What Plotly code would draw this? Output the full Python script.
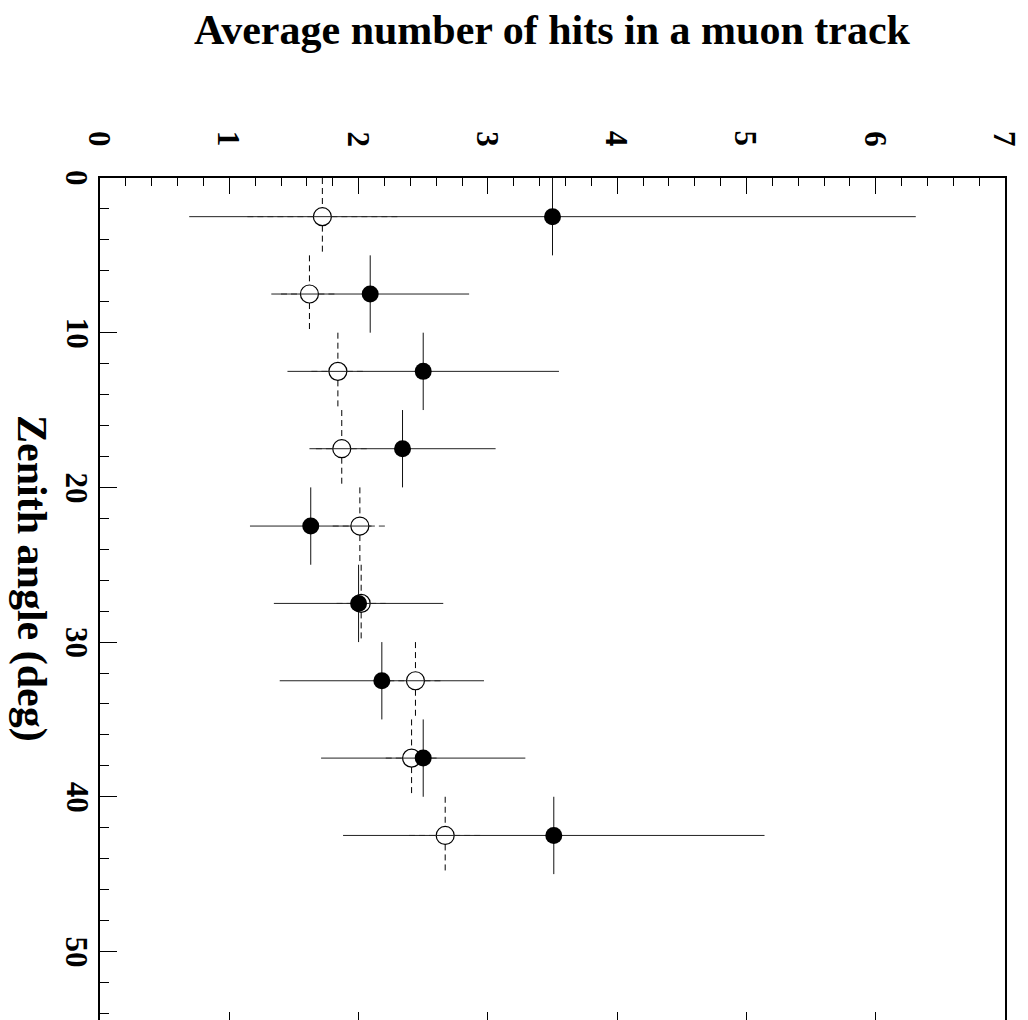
import plotly.graph_objects as go

# ---- data ----
zenith = [2.5, 7.5, 12.5, 17.5, 22.5, 27.5, 32.5, 37.5, 42.5]
zenith_halfwidth = 2.5
data_hits = [3.50, 2.09, 2.50, 2.34, 1.63, 2.00, 2.18, 2.50, 3.51]
data_err = [2.81, 0.765, 1.05, 0.72, 0.47, 0.655, 0.79, 0.79, 1.63]
mc_hits = [1.72, 1.62, 1.84, 1.87, 2.01, 2.02, 2.44, 2.41, 2.67]
mc_err = [0.58, 0.22, 0.205, 0.20, 0.21, 0.19, 0.21, 0.20, 0.28]

hits_ticks = [0, 1, 2, 3, 4, 5, 6, 7]
zen_ticks = [0, 10, 20, 30, 40, 50]

FONT = "Liberation Serif"

# marker radius expressed in axis units (error bars start at the marker edge)
X_RANGE = [0, 7]
Y_RANGE = [54.43, 0]
PLOT_W, PLOT_H = 905, 842
MARKER_R_PX = 9
rx = MARKER_R_PX * (X_RANGE[1] - X_RANGE[0]) / PLOT_W
ry = MARKER_R_PX * (Y_RANGE[0] - Y_RANGE[1]) / PLOT_H

# dashed error segments for the open (MC) points
hx, hy, vx, vy = [], [], [], []
for z, m, e in zip(zenith, mc_hits, mc_err):
    if e > rx:
        hx += [m - e, m - rx, None, m + rx, m + e, None]
        hy += [z, z, None, z, z, None]
    vx += [m, m, None, m, m, None]
    vy += [z - zenith_halfwidth, z - ry, None, z + ry, z + zenith_halfwidth, None]

fig = go.Figure()
fig.add_trace(go.Scatter(x=hx, y=hy, mode="lines",
                         line=dict(color="#333", width=1, dash="6px,4px"),
                         hoverinfo="skip", showlegend=False))
fig.add_trace(go.Scatter(x=vx, y=vy, mode="lines",
                         line=dict(color="#000", width=1, dash="6px,4px"),
                         hoverinfo="skip", showlegend=False))
fig.add_trace(go.Scatter(x=mc_hits, y=zenith, mode="markers",
                         marker=dict(symbol="circle-open", size=18,
                                     color="#000", line=dict(width=1.2, color="#000")),
                         showlegend=False))
fig.add_trace(go.Scatter(
    x=data_hits, y=zenith, mode="markers",
    marker=dict(symbol="circle", size=17, color="#000"),
    error_x=dict(type="data", array=data_err, color="#222", thickness=1, width=0),
    error_y=dict(type="constant", value=zenith_halfwidth, color="#111", thickness=1, width=0),
    showlegend=False))
# companion trace on the bottom (mirror) tick axis
fig.add_trace(go.Scatter(x=data_hits, y=zenith, xaxis="x2", mode="markers",
                         marker=dict(opacity=0), hoverinfo="skip", showlegend=False))

tickfont = dict(family=FONT, size=31, color="#000", weight="bold")

annotations = [
    dict(text="Average number of hits in a muon track", xref="paper", yref="paper",
         x=0.5, y=1, yshift=148, xanchor="center", yanchor="middle", showarrow=False,
         font=dict(family=FONT, size=42, color="#000", weight="bold")),
    dict(text="Zenith angle (deg)", xref="paper", yref="paper",
         x=0, xshift=-68, y=1 - (578 - 178) / 842, xanchor="center", yanchor="middle",
         textangle=90, showarrow=False,
         font=dict(family=FONT, size=42, color="#000", weight="bold")),
]
# rotated tick labels
for t in hits_ticks:
    annotations.append(dict(text=str(t), xref="x", yref="paper", x=t, y=1, yshift=39,
                            xanchor="center", yanchor="middle", textangle=90,
                            showarrow=False, font=tickfont))
for t in zen_ticks:
    annotations.append(dict(text=str(t), xref="paper", yref="y", x=0, y=t, xshift=-23,
                            xanchor="center", yanchor="middle", textangle=90,
                            showarrow=False, font=tickfont))

fig.update_layout(
    width=1020, height=1012,
    margin=dict(l=92, r=23, t=170, b=0),
    paper_bgcolor="white", plot_bgcolor="white",
    xaxis=dict(range=X_RANGE, side="top", tickmode="array", tickvals=hits_ticks,
               showticklabels=False,
               ticks="inside", ticklen=16, tickwidth=1, tickcolor="#000",
               minor=dict(dtick=0.2, ticks="inside", ticklen=8, tickwidth=1, tickcolor="#000"),
               showline=True, linewidth=1.5, linecolor="#000", mirror=False,
               showgrid=False, zeroline=False),
    xaxis2=dict(range=X_RANGE, overlaying="x", side="bottom", anchor="y",
                tickmode="array", tickvals=hits_ticks, ticks="inside", ticklen=8,
                tickwidth=1, tickcolor="#000", showticklabels=False,
                showline=False, showgrid=False, zeroline=False),
    yaxis=dict(range=Y_RANGE, tickmode="array", tickvals=zen_ticks,
               showticklabels=False,
               ticks="inside", ticklen=17, tickwidth=1, tickcolor="#000",
               minor=dict(dtick=2, ticks="inside", ticklen=9, tickwidth=1, tickcolor="#000"),
               showline=True, linewidth=1.5, linecolor="#000", mirror=True,
               showgrid=False, zeroline=False),
    annotations=annotations,
)

fig.write_html("out.html")
